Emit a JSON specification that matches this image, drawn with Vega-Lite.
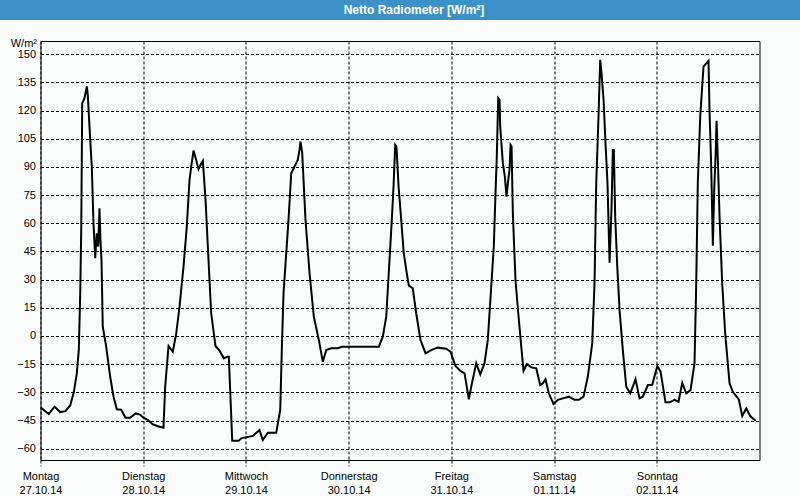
{
  "$schema": "https://vega.github.io/schema/vega-lite/v6.json",
  "background": "#FBFDFC",
  "padding": 0,
  "spacing": 21,
  "bounds": "flush",
  "center": true,
  "config": {
    "axis": {"labelFont": "Liberation Sans", "labelFontSize": 11, "labelColor": "#000000", "titleFont": "Liberation Sans", "titleFontSize": 11, "titleFontWeight": "normal", "titleColor": "#000000"}
  },
  "vconcat": [
    {
      "width": 800,
      "height": 20,
      "view": {"fill": "#3C91C8", "stroke": null},
      "data": {"values": [{"title": "Netto Radiometer [W/m²]"}]},
      "mark": {"type": "text", "color": "#FFFFFF", "font": "Liberation Sans", "fontWeight": "bold", "fontSize": 12, "dx": 14},
      "encoding": {"text": {"field": "title", "type": "nominal"}}
    },
    {
      "width": 719,
      "height": 419,
      "view": {"stroke": "#000000", "strokeWidth": 1, "fill": "#FBFDFC"},
      "data": {"values": [
        {"time": "2014-10-27T00:00", "value": -38},
        {"time": "2014-10-27T01:56", "value": -41.5},
        {"time": "2014-10-27T03:16", "value": -37.6},
        {"time": "2014-10-27T04:36", "value": -40.5},
        {"time": "2014-10-27T05:50", "value": -40},
        {"time": "2014-10-27T06:56", "value": -37},
        {"time": "2014-10-27T07:47", "value": -30},
        {"time": "2014-10-27T08:29", "value": -19.9},
        {"time": "2014-10-27T08:57", "value": -7.4},
        {"time": "2014-10-27T09:17", "value": 22.7},
        {"time": "2014-10-27T09:31", "value": 56.4},
        {"time": "2014-10-27T09:45", "value": 123.9},
        {"time": "2014-10-27T10:17", "value": 126.6},
        {"time": "2014-10-27T10:49", "value": 132.8},
        {"time": "2014-10-27T11:03", "value": 128.3},
        {"time": "2014-10-27T11:37", "value": 104.4},
        {"time": "2014-10-27T11:59", "value": 90.2},
        {"time": "2014-10-27T12:23", "value": 60},
        {"time": "2014-10-27T12:47", "value": 41.4},
        {"time": "2014-10-27T13:09", "value": 54.7},
        {"time": "2014-10-27T13:29", "value": 47.6},
        {"time": "2014-10-27T13:47", "value": 68},
        {"time": "2014-10-27T14:01", "value": 51},
        {"time": "2014-10-27T14:15", "value": 40.5},
        {"time": "2014-10-27T14:33", "value": 5},
        {"time": "2014-10-27T15:21", "value": -5.7},
        {"time": "2014-10-27T16:17", "value": -21.7},
        {"time": "2014-10-27T17:04", "value": -32.3},
        {"time": "2014-10-27T17:50", "value": -39},
        {"time": "2014-10-27T18:51", "value": -39.2},
        {"time": "2014-10-27T19:52", "value": -43.5},
        {"time": "2014-10-27T20:58", "value": -43.5},
        {"time": "2014-10-27T22:12", "value": -41.2},
        {"time": "2014-10-27T23:08", "value": -41.7},
        {"time": "2014-10-28T00:04", "value": -43.5},
        {"time": "2014-10-28T01:04", "value": -44.7},
        {"time": "2014-10-28T02:14", "value": -47},
        {"time": "2014-10-28T03:25", "value": -48},
        {"time": "2014-10-28T04:44", "value": -48.8},
        {"time": "2014-10-28T05:08", "value": -27},
        {"time": "2014-10-28T05:55", "value": -5.3},
        {"time": "2014-10-28T06:55", "value": -8.4},
        {"time": "2014-10-28T07:43", "value": 1.4},
        {"time": "2014-10-28T08:29", "value": 15.6},
        {"time": "2014-10-28T09:25", "value": 36.9},
        {"time": "2014-10-28T10:11", "value": 58.2},
        {"time": "2014-10-28T10:49", "value": 83},
        {"time": "2014-10-28T11:13", "value": 90.2},
        {"time": "2014-10-28T11:45", "value": 98.7},
        {"time": "2014-10-28T12:23", "value": 93.7},
        {"time": "2014-10-28T12:55", "value": 88.8},
        {"time": "2014-10-28T13:23", "value": 91},
        {"time": "2014-10-28T13:56", "value": 93.2},
        {"time": "2014-10-28T14:34", "value": 72.4},
        {"time": "2014-10-28T15:20", "value": 36.9},
        {"time": "2014-10-28T15:53", "value": 12.1},
        {"time": "2014-10-28T16:53", "value": -5.3},
        {"time": "2014-10-28T17:50", "value": -7.8},
        {"time": "2014-10-28T18:50", "value": -11.9},
        {"time": "2014-10-28T19:38", "value": -11},
        {"time": "2014-10-28T20:00", "value": -11},
        {"time": "2014-10-28T20:48", "value": -55.7},
        {"time": "2014-10-28T22:20", "value": -55.7},
        {"time": "2014-10-28T22:54", "value": -54.5},
        {"time": "2014-10-29T01:37", "value": -53.2},
        {"time": "2014-10-29T03:10", "value": -50},
        {"time": "2014-10-29T03:57", "value": -55.4},
        {"time": "2014-10-29T05:07", "value": -51.5},
        {"time": "2014-10-29T07:05", "value": -51.5},
        {"time": "2014-10-29T08:01", "value": -39.4},
        {"time": "2014-10-29T08:23", "value": -7.5},
        {"time": "2014-10-29T08:47", "value": 22.7},
        {"time": "2014-10-29T09:25", "value": 44},
        {"time": "2014-10-29T09:57", "value": 61.8},
        {"time": "2014-10-29T10:35", "value": 86.6},
        {"time": "2014-10-29T11:21", "value": 90.2},
        {"time": "2014-10-29T12:07", "value": 93.7},
        {"time": "2014-10-29T12:31", "value": 99},
        {"time": "2014-10-29T12:45", "value": 103.5},
        {"time": "2014-10-29T13:09", "value": 97.3},
        {"time": "2014-10-29T13:55", "value": 61.8},
        {"time": "2014-10-29T14:52", "value": 33.4},
        {"time": "2014-10-29T15:52", "value": 10.3},
        {"time": "2014-10-29T17:02", "value": -2.1},
        {"time": "2014-10-29T17:58", "value": -13.7},
        {"time": "2014-10-29T18:46", "value": -7.5},
        {"time": "2014-10-29T19:56", "value": -6.5},
        {"time": "2014-10-29T21:28", "value": -6.5},
        {"time": "2014-10-29T22:25", "value": -5.7},
        {"time": "2014-10-30T07:03", "value": -5.7},
        {"time": "2014-10-30T07:59", "value": -0.4},
        {"time": "2014-10-30T08:47", "value": 10.3},
        {"time": "2014-10-30T09:33", "value": 40.5},
        {"time": "2014-10-30T10:05", "value": 61.8},
        {"time": "2014-10-30T10:29", "value": 79.5},
        {"time": "2014-10-30T10:53", "value": 101.7},
        {"time": "2014-10-30T11:11", "value": 100.8},
        {"time": "2014-10-30T11:40", "value": 79.5},
        {"time": "2014-10-30T12:17", "value": 61.8},
        {"time": "2014-10-30T12:53", "value": 44},
        {"time": "2014-10-30T13:35", "value": 33.4},
        {"time": "2014-10-30T14:04", "value": 26.8},
        {"time": "2014-10-30T14:59", "value": 25.4},
        {"time": "2014-10-30T15:47", "value": 12.1},
        {"time": "2014-10-30T16:47", "value": -2.1},
        {"time": "2014-10-30T17:58", "value": -9.2},
        {"time": "2014-10-30T19:17", "value": -7.5},
        {"time": "2014-10-30T20:50", "value": -6.2},
        {"time": "2014-10-30T22:48", "value": -6.8},
        {"time": "2014-10-30T23:49", "value": -8.4},
        {"time": "2014-10-31T00:20", "value": -11.9},
        {"time": "2014-10-31T00:58", "value": -16},
        {"time": "2014-10-31T02:04", "value": -18.5},
        {"time": "2014-10-31T03:05", "value": -19.9},
        {"time": "2014-10-31T04:05", "value": -33.7},
        {"time": "2014-10-31T04:53", "value": -24.3},
        {"time": "2014-10-31T05:49", "value": -14.5},
        {"time": "2014-10-31T06:45", "value": -20.4},
        {"time": "2014-10-31T07:45", "value": -14.5},
        {"time": "2014-10-31T08:31", "value": -2.1},
        {"time": "2014-10-31T09:19", "value": 26.3},
        {"time": "2014-10-31T09:55", "value": 47.6},
        {"time": "2014-10-31T10:19", "value": 76},
        {"time": "2014-10-31T10:37", "value": 95.5},
        {"time": "2014-10-31T10:57", "value": 126.6},
        {"time": "2014-10-31T11:16", "value": 125.7},
        {"time": "2014-10-31T11:25", "value": 111.4},
        {"time": "2014-10-31T12:02", "value": 92},
        {"time": "2014-10-31T12:30", "value": 84.8},
        {"time": "2014-10-31T12:53", "value": 74.2},
        {"time": "2014-10-31T13:17", "value": 83},
        {"time": "2014-10-31T13:35", "value": 88.4},
        {"time": "2014-10-31T13:50", "value": 101.7},
        {"time": "2014-10-31T14:04", "value": 100.8},
        {"time": "2014-10-31T14:22", "value": 65.3},
        {"time": "2014-10-31T14:59", "value": 29.8},
        {"time": "2014-10-31T15:38", "value": 12.1},
        {"time": "2014-10-31T16:20", "value": -5.7},
        {"time": "2014-10-31T16:52", "value": -18.5},
        {"time": "2014-10-31T17:38", "value": -14.9},
        {"time": "2014-10-31T18:40", "value": -16.7},
        {"time": "2014-10-31T19:50", "value": -17.2},
        {"time": "2014-10-31T20:46", "value": -26.1},
        {"time": "2014-10-31T21:23", "value": -25.2},
        {"time": "2014-10-31T22:00", "value": -23},
        {"time": "2014-10-31T22:46", "value": -30.5},
        {"time": "2014-10-31T23:52", "value": -36.2},
        {"time": "2014-11-01T00:53", "value": -34},
        {"time": "2014-11-01T02:03", "value": -33.2},
        {"time": "2014-11-01T03:27", "value": -32.3},
        {"time": "2014-11-01T04:47", "value": -34},
        {"time": "2014-11-01T05:47", "value": -34},
        {"time": "2014-11-01T06:53", "value": -32.3},
        {"time": "2014-11-01T07:53", "value": -21.7},
        {"time": "2014-11-01T08:55", "value": -3.9},
        {"time": "2014-11-01T09:27", "value": 28},
        {"time": "2014-11-01T09:51", "value": 81.3},
        {"time": "2014-11-01T10:23", "value": 116.8},
        {"time": "2014-11-01T10:47", "value": 147},
        {"time": "2014-11-01T11:05", "value": 139.9},
        {"time": "2014-11-01T11:34", "value": 125.7},
        {"time": "2014-11-01T12:01", "value": 102.6},
        {"time": "2014-11-01T12:29", "value": 81.3},
        {"time": "2014-11-01T12:58", "value": 39},
        {"time": "2014-11-01T13:26", "value": 68.9},
        {"time": "2014-11-01T13:44", "value": 99},
        {"time": "2014-11-01T13:58", "value": 99},
        {"time": "2014-11-01T14:17", "value": 63.5},
        {"time": "2014-11-01T14:46", "value": 36.9},
        {"time": "2014-11-01T15:18", "value": 13.8},
        {"time": "2014-11-01T16:04", "value": -7.5},
        {"time": "2014-11-01T16:52", "value": -27},
        {"time": "2014-11-01T17:48", "value": -30.5},
        {"time": "2014-11-01T18:24", "value": -27},
        {"time": "2014-11-01T19:02", "value": -23},
        {"time": "2014-11-01T19:58", "value": -33.2},
        {"time": "2014-11-01T20:44", "value": -32.3},
        {"time": "2014-11-01T21:55", "value": -26.1},
        {"time": "2014-11-01T22:56", "value": -26.1},
        {"time": "2014-11-02T00:07", "value": -16},
        {"time": "2014-11-02T00:53", "value": -19},
        {"time": "2014-11-02T02:02", "value": -35.3},
        {"time": "2014-11-02T02:59", "value": -35.3},
        {"time": "2014-11-02T04:09", "value": -34},
        {"time": "2014-11-02T05:05", "value": -35},
        {"time": "2014-11-02T05:57", "value": -24.9},
        {"time": "2014-11-02T06:53", "value": -30.5},
        {"time": "2014-11-02T07:53", "value": -28.8},
        {"time": "2014-11-02T08:49", "value": -14.5},
        {"time": "2014-11-02T09:13", "value": 28},
        {"time": "2014-11-02T09:35", "value": 81.3},
        {"time": "2014-11-02T10:09", "value": 116.8},
        {"time": "2014-11-02T10:55", "value": 143.4},
        {"time": "2014-11-02T12:05", "value": 146.4},
        {"time": "2014-11-02T12:19", "value": 120.3},
        {"time": "2014-11-02T12:43", "value": 90.2},
        {"time": "2014-11-02T13:06", "value": 48},
        {"time": "2014-11-02T13:25", "value": 77.7},
        {"time": "2014-11-02T13:44", "value": 95.5},
        {"time": "2014-11-02T13:58", "value": 114.5},
        {"time": "2014-11-02T14:16", "value": 93.7},
        {"time": "2014-11-02T14:40", "value": 63.5},
        {"time": "2014-11-02T15:17", "value": 28},
        {"time": "2014-11-02T15:59", "value": 1.4},
        {"time": "2014-11-02T17:00", "value": -25.2},
        {"time": "2014-11-02T17:46", "value": -29.7},
        {"time": "2014-11-02T19:10", "value": -33.7},
        {"time": "2014-11-02T19:58", "value": -42.6},
        {"time": "2014-11-02T20:54", "value": -38.5},
        {"time": "2014-11-02T21:50", "value": -42.6},
        {"time": "2014-11-02T23:04", "value": -45.1}
      ]},
      "mark": {"type": "line", "color": "#000000", "strokeWidth": 2, "clip": true},
      "encoding": {
        "x": {
          "field": "time",
          "type": "temporal",
          "scale": {"domain": [{"year": 2014, "month": 10, "date": 27}, {"year": 2014, "month": 11, "date": 3}], "nice": false},
          "axis": {
            "title": null,
            "domain": false,
            "values": [
              {"year": 2014, "month": 10, "date": 27},
              {"year": 2014, "month": 10, "date": 28},
              {"year": 2014, "month": 10, "date": 29},
              {"year": 2014, "month": 10, "date": 30},
              {"year": 2014, "month": 10, "date": 31},
              {"year": 2014, "month": 11, "date": 1},
              {"year": 2014, "month": 11, "date": 2}
            ],
            "labelExpr": "[['Sonntag','Montag','Dienstag','Mittwoch','Donnerstag','Freitag','Samstag'][day(datum.value)], timeFormat(datum.value, '%d.%m.%y')]",
            "labelFlush": false,
            "labelOverlap": false,
            "labelLineHeight": 14,
            "labelPadding": 4,
            "labelBaseline": "top",
            "tickSize": 6,
            "tickColor": "#000000",
            "tickDash": [3, 2],
            "grid": true,
            "gridColor": "#000000",
            "gridOpacity": 1,
            "gridDash": [3, 2],
            "gridWidth": 1
          }
        },
        "y": {
          "field": "value",
          "type": "quantitative",
          "scale": {"domain": [-66, 157], "nice": false, "zero": false},
          "axis": {
            "title": "W/m²",
            "titleAngle": 0,
            "titleAlign": "right",
            "titleBaseline": "bottom",
            "titleX": -4,
            "titleY": 7,
            "domain": false,
            "ticks": false,
            "labelPadding": 5,
            "values": [-60, -45, -30, -15, 0, 15, 30, 45, 60, 75, 90, 105, 120, 135, 150],
            "grid": true,
            "gridColor": "#000000",
            "gridOpacity": 1,
            "gridDash": [3, 2],
            "gridWidth": 1
          }
        }
      }
    }
  ]
}
